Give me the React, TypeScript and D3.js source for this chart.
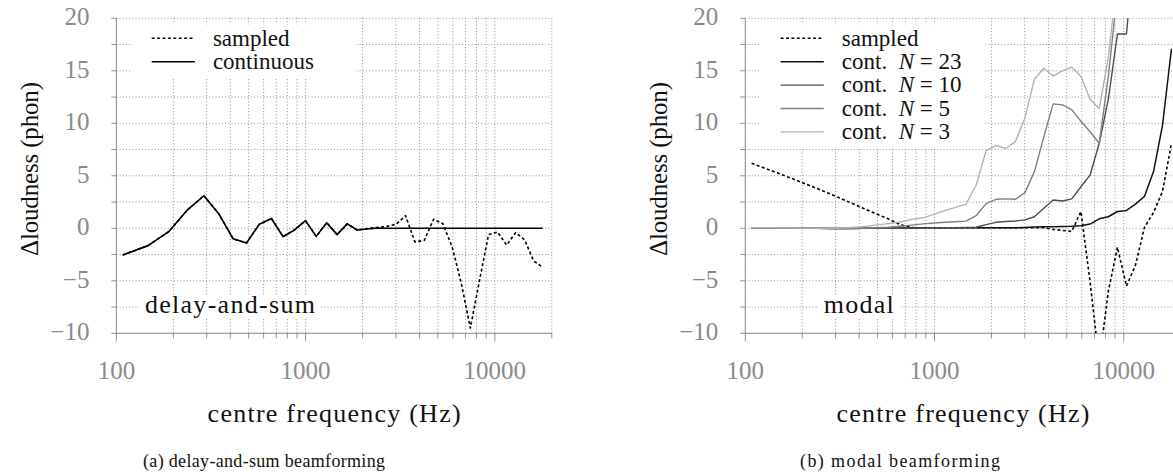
import React from "react";
import * as d3 from "d3";

// centre frequencies of the analysis bands (Hz)
const freqs = [
  108, 147, 189, 237, 290, 349, 414, 487, 569, 660, 760, 873, 998, 1138, 1293,
  1466, 1659, 1873, 2112, 2378, 2675, 3005, 3372, 3781, 4237, 4745, 5310, 5940,
  6641, 7422, 8292, 9260, 10339, 11540, 12878, 14368, 16027, 17875,
];

// (a) delay-and-sum
const dsContinuous = [
  -2.54, -1.65, -0.32, 1.74, 3.1, 1.33, -1.0, -1.4, 0.38, 0.93, -0.8, -0.16,
  0.73, -0.77, 0.53, -0.6, 0.42, -0.16, -0.07, 0.02, 0, 0, 0, 0, 0, 0, 0, 0, 0,
  0, 0, 0, 0, 0, 0, 0, 0, 0,
];
const dsSampled = [
  -2.54, -1.65, -0.32, 1.74, 3.1, 1.33, -1.0, -1.4, 0.38, 0.93, -0.8, -0.16,
  0.73, -0.77, 0.53, -0.6, 0.42, -0.16, -0.02, 0.08, 0.18, 0.38, 1.2, -1.3,
  -1.15, 0.86, 0.45, -1.75, -5.2, -9.5, -5.0, -0.6, -0.35, -1.6, -0.42, -1.1,
  -3.1, -3.7,
];

// (b) modal
const modalSampled = [
  6.19, 5.29, 4.53, 3.82, 3.17, 2.54, 1.95, 1.41, 0.9, 0.35, 0.06, 0.05, 0.05,
  0.05, 0.05, 0.05, 0.05, 0.05, 0.05, 0.05, 0.05, 0.05, 0.05, 0.05, -0.1, -0.2,
  -0.3, 1.6, -5.1, -12.8, -6.0, -1.8, -5.5, -3.5, 0.1, 1.5, 3.5, 8.1,
];
const modalN23 = [
  0.05, 0.05, 0.03, 0, -0.02, -0.02, 0, 0, 0, 0.02, 0.03, 0.05, 0.05, 0.05,
  0.05, 0.05, 0.05, 0.05, 0.05, 0.05, 0.05, 0.08, 0.12, 0.15, 0.15, 0.18, 0.2,
  0.25, 0.4, 0.9, 1.1, 1.6, 1.7, 2.3, 3.05, 5.4, 9.8, 17.1,
];
const modalN10 = [
  0.05, 0.05, 0.03, 0, -0.02, -0.02, 0, 0, 0, 0.02, 0.03, 0.04, 0.05, 0.05,
  0.05, 0.08, 0.1, 0.35, 0.57, 0.65, 0.7, 0.8, 1.1, 1.9, 2.7, 2.6, 2.8, 3.96,
  5.07, 8.1, 12.3, 18.5, 18.5, 28,
];
const modalN5 = [
  0.05, 0.05, 0.03, 0, -0.02, -0.02, 0, 0.05, 0.1, 0.2, 0.3, 0.42, 0.5, 0.57,
  0.63, 0.68, 1.2, 2.35, 2.76, 2.8, 2.76, 3.4, 5.4, 8.7, 11.85, 11.75, 11.3,
  10.2, 9.2, 8.1, 14.5, 22.5,
];
const modalN3 = [
  0.05, 0.05, 0.03, 0, 0, 0.05, 0.15, 0.3, 0.45, 0.6, 0.85, 1.0, 1.35, 1.7, 2.0,
  2.3, 4.1, 7.4, 7.9, 7.6, 8.25, 10.5, 14.2, 15.25, 14.5, 15.0, 15.35, 14.45,
  12.3, 11.4, 16.3, 24,
];

const xTickLabels = [100, 1000, 10000];
const xGrid = [
  100, 200, 300, 400, 500, 600, 700, 800, 900, 1000, 2000, 3000, 4000, 5000,
  6000, 7000, 8000, 9000, 10000, 20000,
];
const yTickLabels = [-10, -5, 0, 5, 10, 15, 20];
const yGrid = [-10, -7.5, -5, -2.5, 0, 2.5, 5, 7.5, 10, 12.5, 15, 17.5, 20];

const FONT = "'Liberation Serif', 'DejaVu Serif', serif";
const GRAY = "#8f8f8f";
const TICKTXT = "#8a8a8a";

type Series = {
  values: number[];
  color: string;
  width: number;
  dash?: string;
  label: React.ReactNode;
};

type PanelProps = {
  id: string;
  x0: number;
  series: Series[];
  note: string;
  noteW: number;
  caption: string;
  captionX: number;
  captionW: number;
  ylabelX: number;
};

function Panel({ id, x0, series, note, noteW, caption, captionX, captionW, ylabelX }: PanelProps) {
  const top = 18.3;
  const bottom = 333.3;
  const right = x0 + 435.4;
  const x = d3.scaleLog().domain([100, 20000]).range([x0, right]);
  const y = d3.scaleLinear().domain([-10, 20]).range([bottom, top]);
  const path = (vals: number[]) =>
    d3
      .line<number>()
      .x((_, i) => x(freqs[i]))
      .y((d) => y(d))(vals) || "";

  const legendH = series.length * 23.4 + 5;
  const noteCx = x0 + 113.5;

  return (
    <g style={{ fontFamily: FONT }}>
      <defs>
        <clipPath id={id}>
          <rect x={x0} y={top} width={right - x0} height={bottom - top} />
        </clipPath>
      </defs>

      {/* grid */}
      {xGrid.map((v) => (
        <line key={"gx" + v} x1={x(v)} x2={x(v)} y1={top} y2={bottom}
          stroke={GRAY} strokeWidth={1} strokeDasharray="1 2.2" />
      ))}
      {yGrid.map((v) => (
        <line key={"gy" + v} x1={x0} x2={right} y1={y(v)} y2={y(v)}
          stroke={GRAY} strokeWidth={1} strokeDasharray="1 2.2" />
      ))}

      {/* legend box and note box hide the grid */}
      <rect x={x0 + 15} y={25} width={224} height={legendH} fill="white" />
      <rect x={noteCx - noteW / 2 - 6} y={295} width={noteW + 12} height={24} fill="white" />

      {/* axes */}
      <line x1={x0} x2={x0} y1={top} y2={bottom} stroke={GRAY} />
      <line x1={x0} x2={right} y1={bottom} y2={bottom} stroke={GRAY} />
      {xGrid.map((v) => (
        <line key={"tx" + v} x1={x(v)} x2={x(v)} y1={bottom}
          y2={bottom + (xTickLabels.includes(v) ? 8 : 5)} stroke={GRAY} />
      ))}
      {yGrid.map((v) => (
        <line key={"ty" + v} x1={x0 - 5} x2={x0} y1={y(v)} y2={y(v)} stroke={GRAY} />
      ))}
      {xTickLabels.map((v) => (
        <text key={"lx" + v} x={x(v)} y={378.5} textAnchor="middle" fontSize={25} fill={TICKTXT}>
          {v}
        </text>
      ))}
      {yTickLabels.map((v) => (
        <text key={"ly" + v} x={x0 - 27} y={y(v) + 6.8} textAnchor="end" fontSize={25} fill={TICKTXT}>
          {v < 0 ? "\u2212" + Math.abs(v) : v}
        </text>
      ))}

      {/* data */}
      <g clipPath={`url(#${id})`}>
        {series.map((s, i) => (
          <path key={i} d={path(s.values)} fill="none" stroke={s.color}
            strokeWidth={s.width} strokeDasharray={s.dash} strokeLinejoin="round" />
        ))}
      </g>

      {/* legend */}
      {series.map((s, i) => (
        <g key={"lg" + i}>
          <line x1={x0 + 35.3} x2={x0 + 78.5} y1={38.3 + i * 23.4} y2={38.3 + i * 23.4}
            stroke={s.color} strokeWidth={s.width} strokeDasharray={s.dash} />
          <text x={x0 + 96.5} y={45.5 + i * 23.4} fontSize={23} fill="#111">
            {s.label}
          </text>
        </g>
      ))}

      <text x={noteCx} y={313.3} textAnchor="middle" fontSize={26} fill="#111"
        textLength={noteW} lengthAdjust="spacing">
        {note}
      </text>

      {/* titles */}
      <text x={(x0 + right) / 2} y={421.7} textAnchor="middle" fontSize={26} fill="#111"
        textLength={253} lengthAdjust="spacing">
        centre frequency (Hz)
      </text>
      <text transform={`translate(${ylabelX},${169}) rotate(-90)`} textAnchor="middle"
        fontSize={25} fill="#111" dy={9} textLength={174} lengthAdjust="spacing">
        Δloudness (phon)
      </text>
      <text x={captionX} y={467} fontSize={18} fill="#111" textLength={captionW} lengthAdjust="spacing">
        {caption}
      </text>
    </g>
  );
}

const nLabel = (n: number) => (
  <>
    {"cont.\u00a0\u00a0"}
    <tspan fontStyle="italic">N</tspan>
    {"\u00a0=\u00a0" + n}
  </>
);

export default function App() {
  const left: Series[] = [
    { values: dsSampled, color: "#000", width: 1.6, dash: "3 2.4", label: "sampled" },
    { values: dsContinuous, color: "#000", width: 1.6, label: "continuous" },
  ];
  const rightS: Series[] = [
    { values: modalSampled, color: "#000", width: 1.6, dash: "3 2.4", label: "sampled" },
    { values: modalN23, color: "#111", width: 1.5, label: nLabel(23) },
    { values: modalN10, color: "#4d4d4d", width: 1.4, label: nLabel(10) },
    { values: modalN5, color: "#808080", width: 1.4, label: nLabel(5) },
    { values: modalN3, color: "#b3b3b3", width: 1.4, label: nLabel(3) },
  ];
  return (
    <div style={{ position: "absolute", left: 0, top: 0 }}>
      <svg width={1173} height={473} style={{ display: "block", background: "white" }}>
        <Panel id="clipA" x0={116.4} series={left} note="delay-and-sum" noteW={170}
          caption="(a) delay-and-sum beamforming" captionX={143} captionW={242} ylabelX={29} />
        <Panel id="clipB" x0={745.3} series={rightS} note="modal" noteW={70}
          caption="(b) modal beamforming" captionX={800} captionW={200} ylabelX={658} />
      </svg>
    </div>
  );
}
